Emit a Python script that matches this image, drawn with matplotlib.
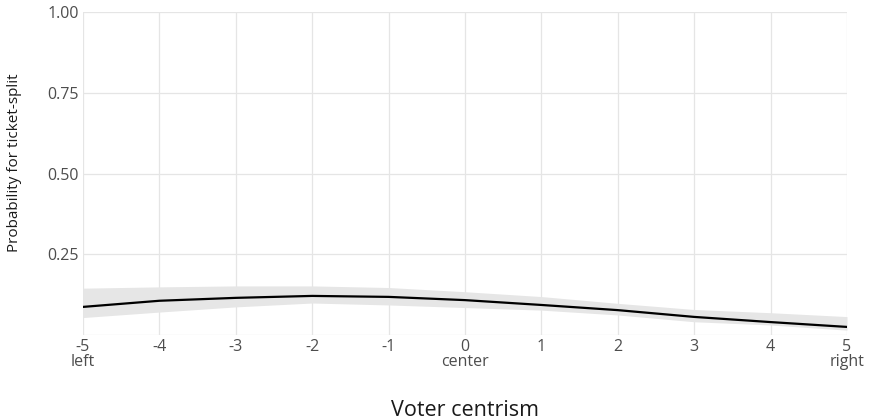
import matplotlib
matplotlib.use("Agg")
import matplotlib.pyplot as plt

x_vals = [-5, -4, -3, -2, -1, 0, 1, 2, 3, 4, 5]
prob = [0.087, 0.106, 0.115, 0.121, 0.118, 0.108, 0.093, 0.077, 0.056, 0.040, 0.025]
upper = [0.145, 0.149, 0.152, 0.152, 0.147, 0.134, 0.119, 0.098, 0.079, 0.069, 0.057]
lower = [0.054, 0.071, 0.087, 0.099, 0.093, 0.085, 0.077, 0.062, 0.041, 0.031, 0.015]
x_ticks = [-5, -4, -3, -2, -1, 0, 1, 2, 3, 4, 5]
x_ticklabels = ["-5\nleft", "-4", "-3", "-2", "-1", "0\ncenter", "1", "2", "3", "4", "5\nright"]
y_ticks = [0.25, 0.50, 0.75, 1.00]
y_ticklabels = ["0.25", "0.50", "0.75", "1.00"]

plt.rcParams['font.family'] = ['Open Sans', 'DejaVu Sans']

W, H = 870, 419
fig = plt.figure(figsize=(8.7, 4.19), dpi=100)
ax = fig.add_axes([83 / W, 1 - 335 / H, (847 - 83) / W, (335 - 12) / H])

ax.fill_between(x_vals, lower, upper, color="#e6e6e6", linewidth=0, zorder=2)
ax.plot(x_vals, prob, color="black", linewidth=1.6, zorder=3)

ax.set_xlim(-5, 5)
ax.set_ylim(0, 1)
ax.set_xticks(x_ticks)
ax.set_xticklabels(x_ticklabels)
ax.set_yticks([0] + y_ticks)
ax.set_yticklabels([""] + y_ticklabels)

for s in ax.spines.values():
    s.set_visible(False)
ax.grid(True, color="#e5e5e5", linewidth=0.9, zorder=0)
ax.set_axisbelow(True)
ax.tick_params(length=0, labelsize=11.5, colors="#4d4d4d", pad=3)
for lbl in ax.get_xticklabels():
    lbl.set_linespacing(0.9)

fig.text(465 / W, 1 - 410 / H, "Voter centrism", fontsize=15.5, color="#1a1a1a",
         ha="center", va="center")
fig.text(14.5 / W, 1 - 163 / H, "Probability for ticket-split", fontsize=11,
         color="#1a1a1a", rotation=90, ha="center", va="center")

fig.savefig("out.png", dpi=100, facecolor="white")
